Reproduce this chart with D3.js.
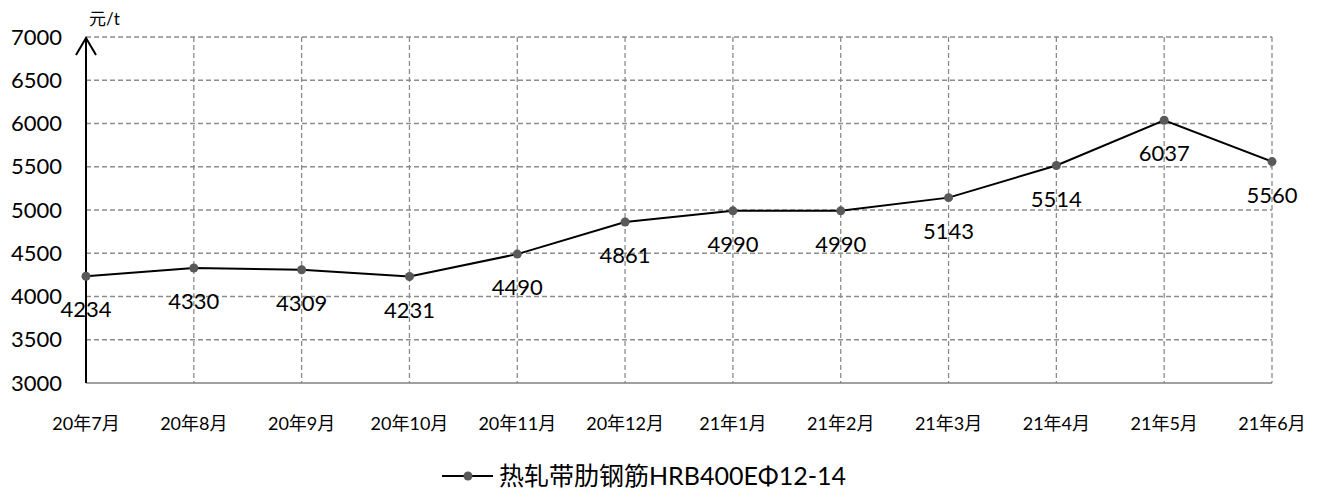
<!DOCTYPE html>
<html>
<head>
<meta charset="utf-8">
<script src="https://cdn.jsdelivr.net/npm/d3@7"></script>
<style>
  body { margin: 0; background: #fff; }
  text { font-family: Lato, "Noto Sans CJK SC", sans-serif; fill: #000; }
</style>
</head>
<body>
<div id="chart"></div>
<script>
// data
var categories = ["20年7月", "20年8月", "20年9月", "20年10月", "20年11月", "20年12月",
                  "21年1月", "21年2月", "21年3月", "21年4月", "21年5月", "21年6月"];
var prices = [4234, 4330, 4309, 4231, 4490, 4861, 4990, 4990, 5143, 5514, 6037, 5560];
var yTicks = [3000, 3500, 4000, 4500, 5000, 5500, 6000, 6500, 7000];
var seriesName = "热轧带肋钢筋HRB400EΦ12-14";
var unitLabel = "元/t";

var W = 1322, H = 492;
var margin = {top: 37, right: 50, bottom: 109, left: 86};
var width = W - margin.left - margin.right,
    height = H - margin.top - margin.bottom;

var svg = d3.select("#chart").append("svg")
  .attr("width", W).attr("height", H);

var g = svg.append("g")
  .attr("transform", "translate(" + margin.left + "," + margin.top + ")");

var x = d3.scalePoint().domain(categories).range([0, width]);
var y = d3.scaleLinear().domain([3000, 7000]).range([height, 0]);

// horizontal grid
g.selectAll(".hgrid").data(yTicks.slice(1)).enter().append("line")
  .attr("x1", 0).attr("x2", width)
  .attr("y1", function(d) { return y(d); }).attr("y2", function(d) { return y(d); })
  .attr("stroke", "#8c8c8c").attr("stroke-width", 1.3).attr("stroke-dasharray", "5,3");

// vertical grid
g.selectAll(".vgrid").data(categories.slice(1)).enter().append("line")
  .attr("x1", function(d) { return x(d); }).attr("x2", function(d) { return x(d); })
  .attr("y1", 0).attr("y2", height)
  .attr("stroke", "#8c8c8c").attr("stroke-width", 1.3).attr("stroke-dasharray", "5,3");

// x axis (bottom line)
g.append("line").attr("x1", 0).attr("x2", width)
  .attr("y1", height).attr("y2", height)
  .attr("stroke", "#808080").attr("stroke-width", 1.5);

// y axis with arrow
g.append("line").attr("x1", 0).attr("x2", 0)
  .attr("y1", height).attr("y2", 1)
  .attr("stroke", "#000").attr("stroke-width", 2);
g.append("path").attr("d", "M-10,18 L0,1 L10,18")
  .attr("fill", "none").attr("stroke", "#000").attr("stroke-width", 2);

// y tick labels
g.selectAll(".ylab").data(yTicks).enter().append("text")
  .attr("x", -24).attr("y", function(d) { return y(d); })
  .attr("dy", "0.35em").attr("text-anchor", "end")
  .style("font-size", "22px")
  .text(function(d) { return d; });

// x tick labels
g.selectAll(".xlab").data(categories).enter().append("text")
  .attr("x", function(d) { return x(d); }).attr("y", height + 47)
  .attr("text-anchor", "middle")
  .style("font-size", "18px")
  .text(function(d) { return d; });

// unit
g.append("text").attr("x", 3).attr("y", -12)
  .style("font-size", "17px").text(unitLabel);

// line
var line = d3.line()
  .x(function(d, i) { return x(categories[i]); })
  .y(function(d) { return y(d); });
g.append("path").datum(prices)
  .attr("d", line).attr("fill", "none")
  .attr("stroke", "#000").attr("stroke-width", 2);

// points
g.selectAll(".dot").data(prices).enter().append("circle")
  .attr("cx", function(d, i) { return x(categories[i]); })
  .attr("cy", function(d) { return y(d); })
  .attr("r", 4.5).attr("fill", "#595959");

// value labels
g.selectAll(".vlab").data(prices).enter().append("text")
  .attr("x", function(d, i) { return x(categories[i]); })
  .attr("y", function(d) { return y(d) + 41; })
  .attr("text-anchor", "middle")
  .style("font-size", "22px")
  .text(function(d) { return d; });

// legend
var leg = svg.append("g").attr("transform", "translate(442,476)");
leg.append("line").attr("x1", 0).attr("x2", 51).attr("y1", 0).attr("y2", 0)
  .attr("stroke", "#000").attr("stroke-width", 2);
leg.append("circle").attr("cx", 26).attr("cy", 0).attr("r", 4.5).attr("fill", "#595959");
leg.append("text").attr("x", 57).attr("y", 0).attr("dy", "0.36em")
  .style("font-size", "25px").text(seriesName);
</script>
</body>
</html>
